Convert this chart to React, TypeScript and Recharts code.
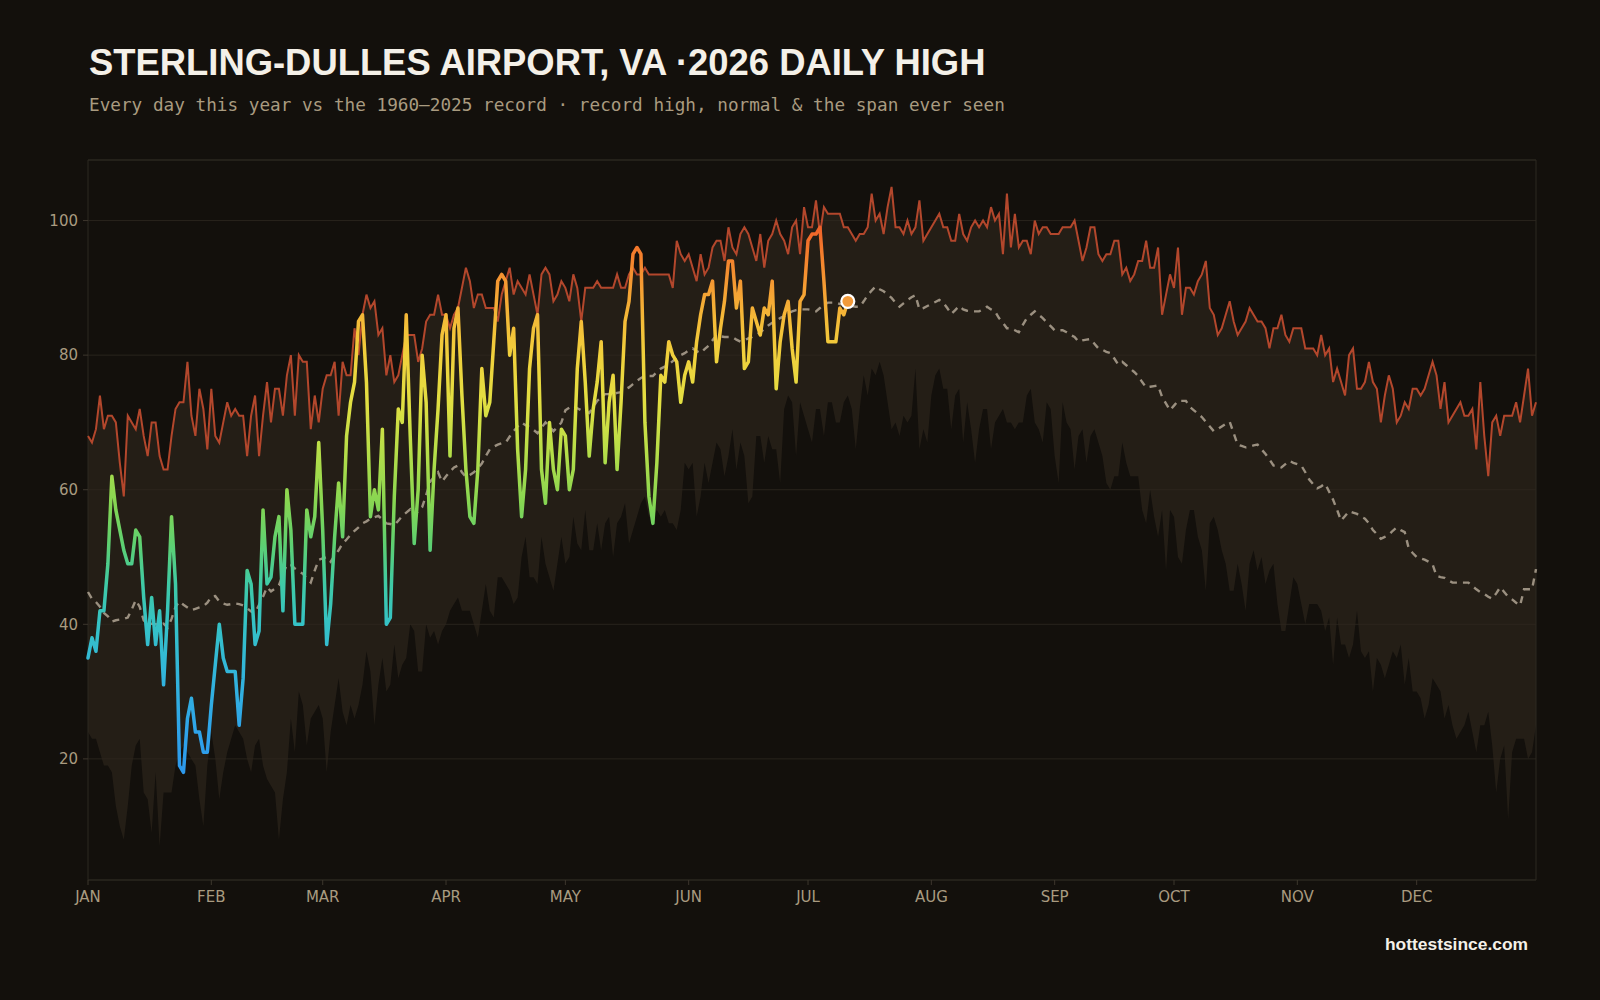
import React from 'react';
import {
    ComposedChart,
    Area,
    Line,
    XAxis,
    YAxis,
    CartesianGrid,
    ReferenceArea
} from 'recharts';

// 2026 daily highs (°F), Jan 1 → Jul 11
const daily2026 = [
    35, 38, 36, 42, 42, 49, 62, 57, 54, 51,
    49, 49, 54, 53, 44, 37, 44, 37, 42, 31,
    42, 56, 46, 19, 18, 26, 29, 24, 24, 21,
    21, 28, 34, 40, 35, 33, 33, 33, 25, 32,
    48, 46, 37, 39, 57, 46, 47, 53, 56, 42,
    60, 54, 40, 40, 40, 57, 53, 56, 67, 54,
    37, 43, 53, 61, 53, 68, 73, 76, 85, 86,
    76, 56, 60, 57, 69, 40, 41, 59, 72, 70,
    86, 68, 52, 60, 80, 73, 51, 63, 72, 83,
    86, 65, 84, 87, 74, 63, 56, 55, 63, 78,
    71, 73, 82, 91, 92, 91, 80, 84, 66, 56,
    63, 78, 84, 86, 63, 58, 70, 63, 60, 69,
    68, 60, 63, 78, 85, 76, 65, 72, 76, 82,
    64, 73, 77, 63, 73, 85, 88, 95, 96, 95,
    70, 59, 55, 64, 77, 76, 82, 80, 79, 73,
    77, 79, 76, 82, 86, 89, 89, 91, 79, 84,
    88, 94, 94, 87, 91, 78, 79, 87, 85, 83,
    87, 86, 91, 75, 82, 86, 88, 81, 76, 88,
    89, 97, 98, 98, 99, 91, 82, 82, 82, 87,
    86, 88
];

// 1960–2025 record high for each calendar day
const recordHigh = [
    68, 67, 69, 74, 69, 71, 71, 70, 64, 59,
    71, 70, 69, 72, 68, 65, 70, 70, 65, 63,
    63, 68, 72, 73, 73, 79, 71, 68, 75, 72,
    66, 75, 68, 67, 70, 73, 71, 72, 71, 71,
    65, 71, 74, 65, 71, 76, 70, 75, 75, 71,
    77, 80, 71, 80, 79, 79, 69, 74, 70, 75,
    77, 77, 79, 71, 79, 77, 77, 84, 80, 86,
    89, 87, 88, 83, 84, 77, 80, 76, 77, 80,
    83, 83, 83, 79, 81, 85, 86, 86, 89, 86,
    86, 84, 86, 87, 90, 93, 91, 87, 89, 89,
    87, 87, 87, 85, 89, 91, 93, 89, 91, 90,
    89, 92, 89, 86, 92, 93, 92, 88, 89, 91,
    90, 88, 92, 90, 85, 90, 90, 90, 91, 90,
    90, 90, 90, 92, 90, 90, 92, 93, 92, 92,
    93, 92, 92, 92, 92, 92, 92, 90, 97, 95,
    94, 95, 93, 91, 95, 92, 93, 96, 97, 97,
    94, 99, 96, 95, 98, 99, 98, 96, 94, 98,
    93, 97, 98, 100, 98, 97, 95, 99, 100, 95,
    102, 99, 99, 103, 98, 102, 101, 101, 101, 101,
    99, 99, 98, 97, 98, 98, 99, 104, 100, 101,
    98, 102, 105, 99, 99, 98, 100, 98, 99, 103,
    97, 98, 99, 100, 101, 99, 99, 97, 97, 101,
    98, 97, 99, 100, 99, 100, 99, 102, 100, 101,
    95, 104, 96, 101, 96, 97, 97, 95, 100, 98,
    99, 99, 98, 98, 98, 99, 99, 99, 100, 97,
    94, 96, 99, 99, 95, 94, 95, 95, 97, 97,
    92, 93, 91, 92, 94, 94, 97, 93, 93, 96,
    86, 89, 92, 90, 96, 86, 90, 90, 89, 91,
    92, 94, 87, 86, 83, 84, 86, 88, 85, 83,
    84, 85, 87, 86, 85, 85, 84, 81, 84, 84,
    86, 83, 82, 84, 84, 84, 81, 81, 81, 80,
    83, 80, 81, 76, 78, 76, 74, 80, 81, 75,
    75, 76, 79, 76, 75, 70, 74, 77, 75, 70,
    71, 73, 72, 75, 75, 74, 75, 77, 79, 77,
    72, 76, 70, 71, 72, 73, 71, 71, 72, 66,
    76, 68, 62, 70, 71, 68, 71, 71, 71, 73,
    70, 74, 78, 71, 73
];

// lowest daily high ever seen for each calendar day
const recordLow = [
    24, 23, 23, 21, 19, 19, 18, 13, 10, 8,
    13, 19, 22, 23, 15, 14, 9, 18, 7, 15,
    15, 15, 19, 21, 22, 21, 20, 19, 14, 10,
    19, 24, 20, 14, 18, 21, 23, 25, 24, 23,
    20, 18, 22, 23, 19, 17, 16, 15, 8, 14,
    18, 26, 21, 30, 28, 22, 26, 27, 28, 26,
    18, 24, 28, 32, 27, 25, 28, 26, 28, 31,
    36, 33, 25, 31, 35, 30, 31, 37, 32, 34,
    35, 40, 39, 33, 33, 40, 38, 39, 37, 39,
    40, 42, 43, 44, 42, 42, 42, 40, 38, 42,
    46, 42, 41, 47, 47, 46, 45, 43, 44, 50,
    53, 47, 47, 46, 53, 49, 47, 45, 49, 53,
    49, 50, 56, 52, 51, 57, 51, 51, 55, 51,
    55, 56, 50, 55, 56, 58, 52, 54, 56, 58,
    59, 56, 56, 57, 56, 57, 55, 55, 54, 57,
    64, 63, 64, 56, 59, 64, 61, 64, 67, 66,
    62, 65, 69, 63, 67, 65, 58, 59, 68, 68,
    64, 68, 66, 66, 61, 72, 74, 73, 65, 73,
    71, 69, 67, 72, 72, 68, 73, 73, 70, 70,
    73, 74, 72, 66, 72, 77, 74, 78, 77, 79,
    77, 73, 69, 70, 68, 71, 70, 71, 78, 66,
    69, 67, 74, 77, 78, 75, 75, 69, 74, 75,
    67, 73, 69, 64, 69, 72, 72, 66, 70, 71,
    72, 70, 70, 69, 70, 70, 74, 75, 70, 69,
    67, 73, 72, 65, 61, 73, 70, 69, 63, 68,
    69, 64, 68, 69, 67, 65, 61, 60, 62, 62,
    67, 64, 62, 62, 62, 57, 55, 60, 56, 53,
    57, 48, 57, 56, 50, 49, 54, 57, 57, 53,
    51, 45, 55, 56, 54, 51, 49, 45, 45, 49,
    46, 42, 49, 51, 48, 50, 46, 48, 49, 43,
    39, 39, 43, 47, 46, 43, 40, 43, 43, 43,
    42, 39, 41, 34, 41, 37, 37, 35, 37, 42,
    36, 35, 36, 30, 35, 34, 32, 34, 36, 35,
    37, 31, 35, 30, 30, 29, 26, 28, 32, 31,
    30, 26, 28, 25, 23, 24, 25, 27, 24, 21,
    25, 25, 27, 22, 15, 20, 22, 11, 21, 23,
    23, 23, 20, 21, 25
];

// daily normal high
const normalHigh = [
    44.8, 43.8, 43.3, 42.6, 41.7, 41.2, 40.4, 40.6, 40.7, 40.8,
    41.0, 42.2, 43.6, 42.6, 40.6, 40.0, 40.1, 40.0, 39.9, 40.1,
    39.5, 40.8, 42.6, 43.4, 42.9, 42.5, 42.1, 42.3, 42.5, 42.7,
    43.2, 44.1, 44.2, 43.4, 43.1, 42.9, 43.0, 43.1, 43.0, 42.8,
    42.4, 41.9, 41.7, 42.9, 44.1, 45.5, 44.9, 45.3, 45.8, 47.4,
    48.9, 48.8, 48.3, 47.9, 47.5, 46.8, 46.2, 48.0, 49.6, 49.8,
    50.0, 49.3, 50.2, 51.0, 52.0, 52.6, 53.3, 53.9, 54.4, 55.0,
    55.3, 55.7, 55.9, 56.1, 55.6, 55.0, 54.9, 54.7, 55.4, 56.1,
    56.6, 57.1, 56.1, 56.8, 57.4, 59.2, 61.2, 61.9, 62.6, 61.2,
    62.0, 62.7, 63.3, 63.6, 62.6, 61.9, 62.2, 62.6, 63.2, 63.9,
    65.0, 66.0, 66.4, 66.7, 66.9, 67.0, 67.9, 68.7, 69.4, 70.0,
    69.6, 69.3, 68.9, 68.4, 69.2, 70.0, 69.4, 68.7, 69.3, 70.0,
    71.8, 72.2, 72.5, 72.1, 71.8, 71.6, 71.4, 72.3, 73.2, 73.7,
    74.2, 74.2, 74.2, 74.4, 74.5, 74.9, 75.2, 75.7, 76.2, 76.6,
    76.9, 76.9, 76.9, 77.5, 78.0, 78.3, 78.6, 79.1, 79.6, 80.0,
    80.3, 80.7, 81.0, 80.6, 80.3, 80.9, 81.4, 82.2, 83.0, 82.8,
    82.7, 82.7, 82.7, 82.3, 82.0, 82.2, 82.5, 82.7, 83.0, 83.4,
    83.9, 84.4, 84.8, 85.1, 85.5, 85.8, 86.2, 86.5, 86.7, 86.8,
    86.8, 86.8, 86.7, 86.5, 87.0, 87.5, 87.8, 87.8, 87.8, 87.6,
    87.5, 87.4, 87.3, 87.2, 87.2, 88.0, 88.9, 89.6, 90.2, 89.8,
    89.5, 89.0, 88.5, 87.8, 87.2, 87.7, 88.2, 88.6, 88.9, 86.8,
    87.0, 87.3, 87.6, 87.9, 88.2, 87.8, 87.0, 86.1, 86.7, 87.3,
    86.8, 86.6, 86.5, 86.5, 86.5, 86.8, 87.2, 86.8, 86.5, 85.5,
    84.8, 84.0, 84.0, 83.7, 83.4, 84.5, 85.5, 86.0, 86.5, 86.0,
    85.5, 84.9, 84.3, 83.7, 83.7, 83.7, 83.4, 83.0, 82.7, 82.0,
    82.2, 82.3, 82.4, 81.7, 81.0, 80.8, 80.5, 80.3, 79.5, 78.6,
    79.0, 78.5, 78.0, 77.5, 76.9, 76.0, 75.2, 75.3, 75.4, 75.5,
    73.8, 72.8, 71.8, 72.5, 73.2, 73.2, 73.2, 72.3, 71.8, 71.3,
    70.8, 70.1, 69.4, 68.7, 69.0, 69.4, 69.8, 70.1, 68.4, 66.7,
    66.5, 66.3, 66.4, 66.6, 66.7, 66.0, 65.3, 64.5, 63.6, 63.5,
    63.3, 63.8, 64.3, 64.0, 63.8, 63.6, 62.6, 61.5, 60.8, 60.2,
    60.5, 60.9, 59.7, 58.5, 57.0, 55.4, 56.1, 56.8, 56.6, 56.4,
    56.0, 55.7, 55.0, 54.0, 53.4, 52.7, 53.0, 53.3, 53.9, 54.4,
    54.0, 53.7, 51.3, 50.6, 50.0, 49.8, 49.6, 49.3, 48.9, 47.2,
    47.0, 46.9, 46.5, 46.2, 46.2, 46.2, 46.2, 46.2, 45.7, 45.2,
    44.8, 44.5, 44.1, 43.8, 44.6, 45.5, 44.8, 44.1, 43.7, 43.2,
    42.8, 45.2, 45.2, 45.2, 48.2
];

const monthStarts = [0, 31, 59, 90, 120, 151, 181, 212, 243, 273, 304, 334];
const monthLabels = ['JAN', 'FEB', 'MAR', 'APR', 'MAY', 'JUN', 'JUL', 'AUG', 'SEP', 'OCT', 'NOV', 'DEC'];
const yTicks = [20, 40, 60, 80, 100];

// layout
const W = 1600;
const H = 1000;
const PLOT_TOP = 160;
const PLOT_H = 720;
const Y_MIN = 2;
const Y_MAX = 109;

const BG = '#13100c';
const MUTED = '#a99b80';

// colour ramp for the 2026 line, keyed by temperature
const heatStops: [number, string][] = [
    [104, '#ec4a26'],
    [99, '#f0622a'],
    [95, '#f47e2c'],
    [90, '#f59e33'],
    [85, '#f4bc38'],
    [80, '#f0d03c'],
    [73, '#e2df42'],
    [66, '#b8de48'],
    [58, '#86d652'],
    [52, '#5ed070'],
    [46, '#3fcaa6'],
    [40, '#35c2c6'],
    [32, '#32b4dc'],
    [24, '#2fa4ea'],
    [16, '#2c94ec'],
];

const rows = recordHigh.map((hi, day) => ({
    day,
    band: [recordLow[day], hi],
    high: hi,
    normal: normalHigh[day],
    y2026: day < daily2026.length ? daily2026[day] : null,
}));

const lastIndex = daily2026.length - 1;

const TodayDot = (props: any) => {
    const { cx, cy, index } = props;
    if (index !== lastIndex || cx == null || cy == null) return <g key={`dot-${index}`} />;
    return <circle key={`dot-${index}`} cx={cx} cy={cy} r={6.5} fill="#f29a3a" stroke="#ffffff" strokeWidth={2.2} />;
};

const tickStyle = { fill: MUTED, fontSize: 15, fontFamily: '"DejaVu Sans", sans-serif' };

export default function App() {
    return (
        <div style={{ position: 'absolute', left: 0, top: 0, width: W, height: H, background: BG, overflow: 'hidden' }}>
            <svg width={W} height={H} style={{ position: 'absolute', left: 0, top: 0 }}>
                <defs>
                    <linearGradient id="dailyHeat" gradientUnits="userSpaceOnUse" x1="0" y1={PLOT_TOP} x2="0" y2={PLOT_TOP + PLOT_H}>
                        {heatStops.map(([v, c]) => (
                            <stop key={v} offset={(Y_MAX - v) / (Y_MAX - Y_MIN)} stopColor={c} />
                        ))}
                    </linearGradient>
                </defs>
                <text x={89} y={75} fill="#f4f0e8" fontSize={36.4} fontWeight={700}
                    fontFamily='"Liberation Sans", Arial, sans-serif'>
                    STERLING-DULLES AIRPORT, VA ·2026 DAILY HIGH
                </text>
                <text x={89} y={111} fill={MUTED} fontSize={17.7}
                    fontFamily='"DejaVu Sans Mono", monospace'>
                    Every day this year vs the 1960–2025 record · record high, normal &amp; the span ever seen
                </text>
                <text x={1528} y={950} fill="#f4f0e8" fontSize={17.4} fontWeight={700} textAnchor="end"
                    fontFamily='"Liberation Sans", Arial, sans-serif'>
                    hottestsince.com
                </text>
            </svg>

            <div style={{ position: 'absolute', left: 0, top: 0 }}>
                <ComposedChart
                    width={W}
                    height={H}
                    data={rows}
                    margin={{ top: PLOT_TOP, right: 64, bottom: 90, left: 28 }}
                >
                    <CartesianGrid vertical={false} stroke="#29241d" />

                    <XAxis
                        dataKey="day"
                        type="number"
                        domain={[0, 364]}
                        ticks={monthStarts}
                        interval={0}
                        tickFormatter={(d: number) => monthLabels[monthStarts.indexOf(d)]}
                        axisLine={false}
                        tickLine={{ stroke: '#3d362d' }}
                        tickSize={5}
                        tickMargin={6}
                        tick={tickStyle}
                        height={30}
                    />
                    <YAxis
                        type="number"
                        domain={[Y_MIN, Y_MAX]}
                        ticks={yTicks}
                        allowDataOverflow
                        axisLine={false}
                        tickLine={{ stroke: '#3d362d' }}
                        tickSize={5}
                        tickMargin={5}
                        tick={tickStyle}
                        width={60}
                    />

                    {/* span between the lowest and highest daily high on record */}
                    <Area
                        dataKey="band"
                        type="linear"
                        stroke="none"
                        fill="#2e261d"
                        fillOpacity={0.62}
                        isAnimationActive={false}
                        activeDot={false}
                    />

                    <Line
                        dataKey="high"
                        type="linear"
                        stroke="#b3472c"
                        strokeWidth={2}
                        dot={false}
                        activeDot={false}
                        isAnimationActive={false}
                    />

                    <Line
                        dataKey="normal"
                        type="linear"
                        stroke="#9b9080"
                        strokeWidth={2.4}
                        strokeDasharray="7 6"
                        dot={false}
                        activeDot={false}
                        isAnimationActive={false}
                    />

                    <Line
                        dataKey="y2026"
                        type="linear"
                        stroke="url(#dailyHeat)"
                        strokeWidth={3.5}
                        strokeLinejoin="round"
                        strokeLinecap="round"
                        dot={TodayDot}
                        activeDot={false}
                        connectNulls={false}
                        isAnimationActive={false}
                    />

                    <ReferenceArea x1={0} x2={364} y1={Y_MIN} y2={Y_MAX} fill="none" stroke="#2d2821" strokeWidth={1} />
                </ComposedChart>
            </div>
        </div>
    );
}
